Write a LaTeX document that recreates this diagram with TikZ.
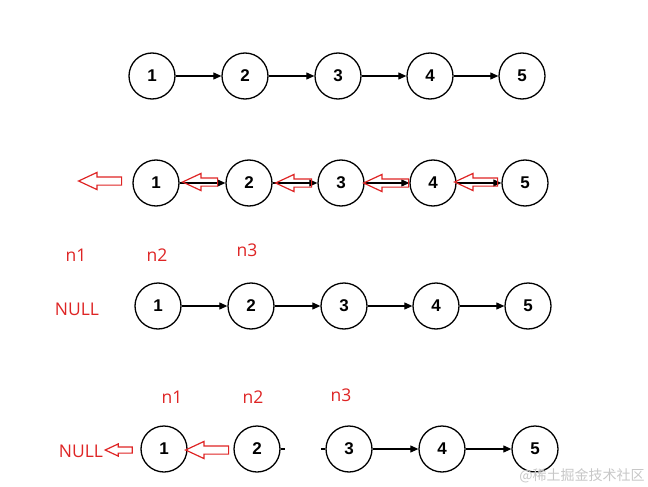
\documentclass[tikz,border=0pt]{standalone}
\usepackage{fontspec}
\setmainfont{Liberation Sans}
\newfontfamily\labelfont{Open Sans}
\newfontfamily\cjkfont{Noto Sans CJK SC}
\usepackage{xcolor}
\usetikzlibrary{shapes.arrows, arrows.meta, positioning}
\definecolor{markred}{RGB}{222,36,36}

\begin{document}
\begin{tikzpicture}[
    x=1pt, y=-1pt,
    every node/.style={font=\fontsize{17}{19}\selectfont\bfseries},
    lnode/.style={circle, draw=black, line width=1.3pt, minimum size=46pt, inner sep=0pt},
    link/.style={-{Triangle[length=8pt, width=7pt]}, line width=1.1pt, draw=black},
    back/.style={single arrow, draw=markred, line width=1.2pt, shape border rotate=180,
                 inner sep=3.5pt, single arrow head extend=4.5pt, single arrow tip angle=50,
                 minimum width=16pt},
    backs/.style={back, inner sep=2.5pt, single arrow head extend=3pt, minimum width=10pt},
    tag/.style={font=\labelfont\fontsize{17.5}{19}\selectfont, text=markred}
]
\useasboundingbox (0,0) rectangle (648,487);

% === Row 1: original list ===
\node[lnode] (a1) at (152, 76) {1};
\node[lnode] (a2) at (245, 76) {2};
\node[lnode] (a3) at (338, 76) {3};
\node[lnode] (a4) at (430, 76) {4};
\node[lnode] (a5) at (522, 76) {5};

\draw[link] (a1) -- (a2);
\draw[link] (a2) -- (a3);
\draw[link] (a3) -- (a4);
\draw[link] (a4) -- (a5);

% === Row 2: every link turned round ===
\node[lnode] (b1) at (156, 183) {1};
\node[lnode] (b2) at (249, 183) {2};
\node[lnode] (b3) at (341, 183) {3};
\node[lnode] (b4) at (433, 183) {4};
\node[lnode] (b5) at (525, 183) {5};

\draw[link] (b1) -- (b2);
\draw[link] (b2) -- (b3);
\draw[link] (b3) -- (b4);
\draw[link] (b4) -- (b5);

\node[back, minimum height=43pt] (r0) at (104.5, 181) {};
\node[back, minimum height=35pt] (r1) at (204.5, 182) {};
\node[back, minimum height=36pt] (r2) at (298, 183) {};
\node[back, minimum height=45pt] (r3) at (390.5, 183) {};
\node[back, minimum height=43pt] (r4) at (480.5, 182) {};

% === Row 3: pointers at start ===
\node[tag] (p1) at (76, 255) {n1};
\node[tag] (p2) at (157, 255) {n2};
\node[tag] (p3) at (247, 250) {n3};
\node[tag] (null1) at (77, 309) {NULL};

\node[lnode] (c1) at (158, 306) {1};
\node[lnode] (c2) at (251, 306) {2};
\node[lnode] (c3) at (344, 306) {3};
\node[lnode] (c4) at (436, 306) {4};
\node[lnode] (c5) at (528, 306) {5};

\draw[link] (c1) -- (c2);
\draw[link] (c2) -- (c3);
\draw[link] (c3) -- (c4);
\draw[link] (c4) -- (c5);

% === Row 4: after one step ===
\node[tag] (q1) at (172, 397) {n1};
\node[tag] (q2) at (253, 397) {n2};
\node[tag] (q3) at (341, 395) {n3};
\node[tag] (null2) at (81, 451) {NULL};

\node[lnode] (d1) at (164, 449) {1};
\node[lnode] (d2) at (257, 449) {2};
\node[lnode] (d3) at (349, 449) {3};
\node[lnode] (d4) at (442, 449) {4};
\node[lnode] (d5) at (535, 449) {5};

\coordinate (cutA) at (285, 449);
\coordinate (cutB) at (321, 449);
\draw[line width=1.1pt] (d2) -- (cutA);
\draw[line width=1.1pt] (cutB) -- (d3);
\draw[link] (d3) -- (d4);
\draw[link] (d4) -- (d5);

\node[backs, minimum height=27pt] (s0) at (122, 450) {};
\node[back, minimum height=43pt] (s1) at (211.5, 450) {};

% watermark
\node[font=\cjkfont\fontsize{14}{16}\selectfont, text=black!22] (mark) at (582, 476) {@稀土掘金技术社区};

\end{tikzpicture}
\end{document}
